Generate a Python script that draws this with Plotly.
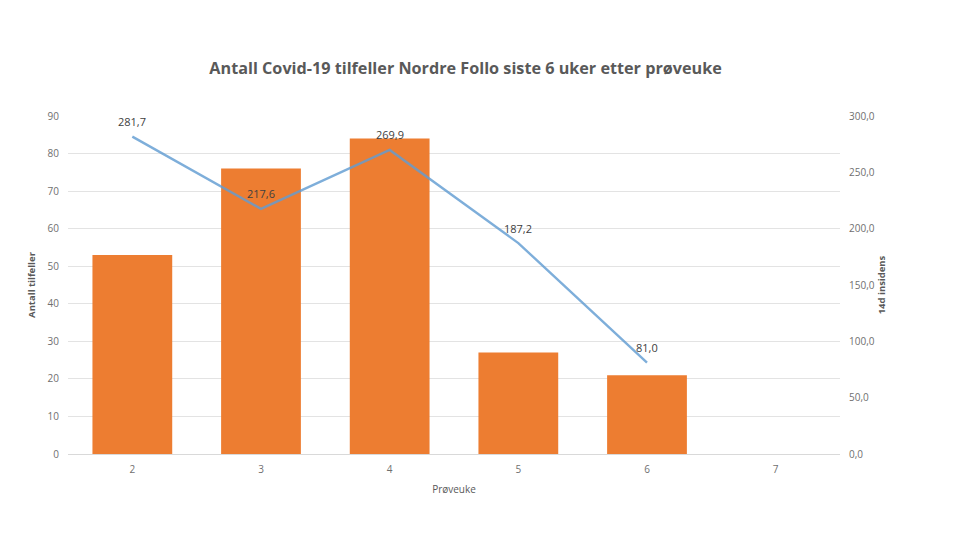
import plotly.graph_objects as go

# Prøveuke, antall tilfeller og 14d insidens
weeks = ["2", "3", "4", "5", "6", "7"]
cases = [53, 76, 84, 27, 21, None]
incidence = [281.7, 217.6, 269.9, 187.2, 81.0, None]
incidence_labels = ["281,7", "217,6", "269,9", "187,2", "81,0", ""]

left_ticks = list(range(0, 91, 10))
right_ticks = [0, 50, 100, 150, 200, 250, 300]
right_ticktext = ["0,0", "50,0", "100,0", "150,0", "200,0", "250,0", "300,0"]

font_family = "Open Sans, Liberation Sans, sans-serif"
grey = "#595959"
tick_grey = "#6f6f6f"

fig = go.Figure()

fig.add_trace(go.Bar(
    x=weeks, y=cases,
    marker=dict(color="#ed7d31", line=dict(width=0)),
    yaxis="y",
    hoverinfo="x+y",
))

fig.add_trace(go.Scatter(
    x=weeks, y=incidence,
    mode="lines",
    line=dict(color="rgba(98,156,210,0.82)", width=2.4),
    yaxis="y2",
))

# data labels above each point of the line (category axis -> use index)
for i, (val, lab) in enumerate(zip(incidence, incidence_labels)):
    if val is None:
        continue
    fig.add_annotation(
        x=i, y=val, xref="x", yref="y2",
        text=lab, showarrow=False,
        yshift=15,
        font=dict(size=11, color="#404040", family=font_family),
    )

fig.update_layout(
    width=960, height=548,
    paper_bgcolor="white", plot_bgcolor="white",
    showlegend=False,
    bargap=0.38,
    margin=dict(l=60, r=128, t=108, b=102),
    title=dict(
        text="<b>Antall Covid-19 tilfeller Nordre Follo siste 6 uker etter prøveuke</b>",
        x=0.515, xref="paper", y=0.89, yanchor="middle",
        font=dict(size=16.2, color=grey, family=font_family),
    ),
    xaxis=dict(
        type="category",
        range=[-0.5, len(weeks) - 0.5],
        showgrid=False,
        showline=True, linecolor="#d9d9d9", linewidth=1,
        ticks="",
        ticklabelstandoff=6,
        tickfont=dict(size=10, color=tick_grey, family=font_family),
        title=dict(text="Prøveuke", font=dict(size=10, color=grey, family=font_family), standoff=10),
    ),
    yaxis=dict(
        range=[0, 90],
        tickvals=left_ticks,
        showgrid=True, gridcolor="#e3e3e3", gridwidth=1,
        zeroline=False,
        ticks="",
        ticklabelstandoff=8,
        tickfont=dict(size=10, color=tick_grey, family=font_family),
        title=dict(text="<b>Antall tilfeller</b>", font=dict(size=9.5, color=grey, family=font_family), standoff=10),
    ),
    yaxis2=dict(
        overlaying="y", side="right",
        range=[0, 300],
        tickvals=right_ticks, ticktext=right_ticktext,
        showgrid=False, zeroline=False,
        ticks="",
        ticklabelstandoff=8,
        tickfont=dict(size=10, color=tick_grey, family=font_family),
        title=dict(text="<b>14d insidens</b>", font=dict(size=9.5, color=grey, family=font_family), standoff=4),
    ),
)

fig.write_html("out.html")
